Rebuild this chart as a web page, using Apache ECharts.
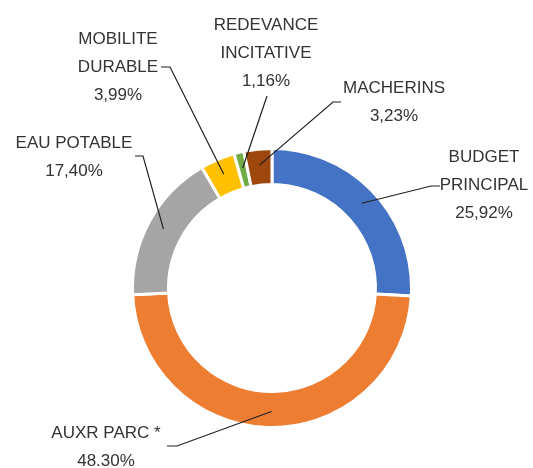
<!DOCTYPE html>
<html lang="fr">
<head>
<meta charset="UTF-8">
<title>Répartition par budget</title>
<script src="https://cdn.jsdelivr.net/npm/echarts@6/dist/echarts.min.js"></script>
<style>
  html, body { margin: 0; padding: 0; background: #fff; }
  #chart { width: 533px; height: 468px; }
</style>
</head>
<body>
<div id="chart"></div>
<script>
// budgets (ordre du graphique, sens horaire depuis midi)
var categories = ['BUDGET\nPRINCIPAL', 'AUXR PARC *', 'EAU POTABLE', 'MOBILITE\nDURABLE', 'REDEVANCE\nINCITATIVE', 'MACHERINS'];
var values = [25.92, 48.30, 17.40, 3.99, 1.16, 3.23];
var pctLabels = ['25,92%', '48.30%', '17,40%', '3,99%', '1,16%', '3,23%'];
var colors = ['#4472C4', '#ED7D31', '#A5A5A5', '#FFC000', '#70AD47', '#9E480E'];

// placement des étiquettes : centre du bloc, coude et bout du trait
var labelPos = [
  { x: 484, y: 185, knee: [431, 186], end: [440, 186] },
  { x: 106, y: 447, knee: [177, 446], end: [167, 446] },
  { x: 74, y: 157, knee: [143, 156], end: [135, 156] },
  { x: 118, y: 67, knee: [170, 67], end: [161, 67] },
  { x: 266, y: 53, knee: [267, 96], end: [267, 96] },
  { x: 394, y: 102, knee: [333, 102], end: [341, 102] }
];

var cx = 272, cy = 288, rOut = 139.5, rIn = 103.5;

var myChart = echarts.init(document.getElementById('chart'));

var data = [];
for (var i = 0; i < values.length; i++) {
  data.push({ value: values[i], name: categories[i], itemStyle: { color: colors[i] } });
}

var option = {
  backgroundColor: '#fff',
  animation: false,
  series: [{
    type: 'pie',
    center: [cx, cy],
    radius: [rIn, rOut],
    startAngle: 90,
    clockwise: true,
    avoidLabelOverlap: false,
    minShowLabelAngle: 0,
    itemStyle: { borderColor: '#fff', borderWidth: 3 },
    label: {
      show: true,
      position: 'outside',
      fontFamily: '"Liberation Sans", Arial, sans-serif',
      fontSize: 17,
      lineHeight: 28,
      color: '#333',
      align: 'center',
      formatter: function (p) {
        return categories[p.dataIndex] + '\n' + pctLabels[p.dataIndex];
      }
    },
    labelLine: { show: false },
    labelLayout: function (p) {
      var pos = labelPos[p.dataIndex];
      return { x: pos.x, y: pos.y, align: 'center', verticalAlign: 'middle' };
    },
    emphasis: { disabled: true },
    data: data
  }]
};
myChart.setOption(option);

// traits de rappel : du milieu de l'anneau (angle médian du secteur) vers l'étiquette
function ringPoint(idx) {
  var lay = null;
  try {
    lay = myChart.getModel().getSeriesByIndex(0).getData().getItemLayout(idx);
  } catch (e) { lay = null; }
  var a, r;
  if (lay && lay.startAngle != null) {
    a = (lay.startAngle + lay.endAngle) / 2;
    r = (lay.r + lay.r0) / 2 + 2;
    return [lay.cx + r * Math.cos(a), lay.cy + r * Math.sin(a)];
  }
  var total = 0, before = 0;
  for (var j = 0; j < values.length; j++) {
    total += values[j];
    if (j < idx) before += values[j];
  }
  a = -Math.PI / 2 + (before + values[idx] / 2) / total * Math.PI * 2;
  r = (rOut + rIn) / 2 + 2;
  return [cx + r * Math.cos(a), cy + r * Math.sin(a)];
}

var leaders = [];
for (var k = 0; k < labelPos.length; k++) {
  leaders.push({
    type: 'polyline',
    z: 100,
    silent: true,
    shape: { points: [ringPoint(k), labelPos[k].knee, labelPos[k].end] },
    style: { stroke: '#1f1f1f', lineWidth: 1.2, fill: null }
  });
}
myChart.setOption({ graphic: leaders });
</script>
</body>
</html>
